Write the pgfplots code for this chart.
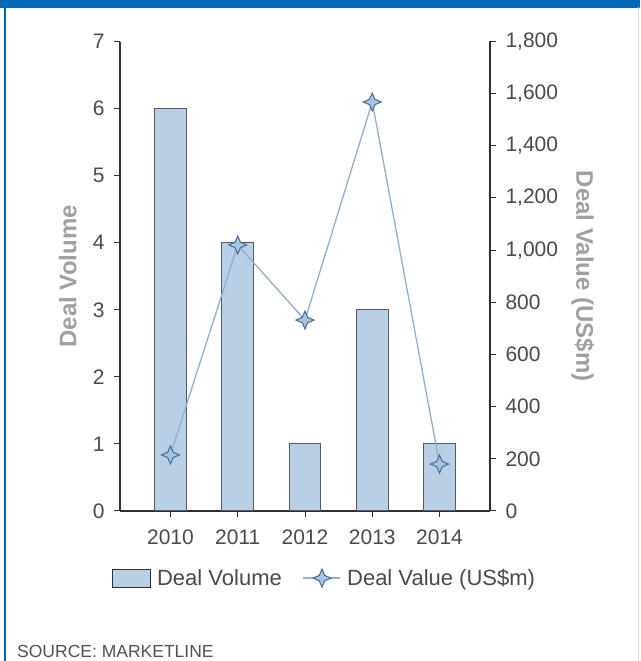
\documentclass[border=0pt]{standalone}
\usepackage{fontspec}
\setmainfont{Liberation Sans}
\usepackage{pgfplots}
\pgfplotsset{compat=1.18}

\definecolor{bandblue}{HTML}{0068B4}
\definecolor{barfill}{HTML}{B9CFE6}
\definecolor{baredge}{HTML}{555B66}
\definecolor{linecol}{HTML}{8DB0D4}
\definecolor{markedge}{HTML}{4C6A8A}
\definecolor{markfill}{HTML}{A3C4E4}
\definecolor{ticktext}{HTML}{4A4A4A}
\definecolor{labeltext}{HTML}{A0A0A0}
\definecolor{axiscol}{HTML}{303030}

% four-pointed star mark
\pgfdeclareplotmark{star4}{%
  \pgfpathmoveto{\pgfqpoint{0pt}{\pgfplotmarksize}}%
  \pgfpathlineto{\pgfqpoint{0.3\pgfplotmarksize}{0.3\pgfplotmarksize}}%
  \pgfpathlineto{\pgfqpoint{\pgfplotmarksize}{0pt}}%
  \pgfpathlineto{\pgfqpoint{0.3\pgfplotmarksize}{-0.3\pgfplotmarksize}}%
  \pgfpathlineto{\pgfqpoint{0pt}{-\pgfplotmarksize}}%
  \pgfpathlineto{\pgfqpoint{-0.3\pgfplotmarksize}{-0.3\pgfplotmarksize}}%
  \pgfpathlineto{\pgfqpoint{-\pgfplotmarksize}{0pt}}%
  \pgfpathlineto{\pgfqpoint{-0.3\pgfplotmarksize}{0.3\pgfplotmarksize}}%
  \pgfpathclose
  \pgfusepathqfillstroke}

\pgfplotsset{
  common/.style={
    scale only axis,
    width=370pt, height=469.5pt,
    at={(120pt,150pt)}, anchor=south west,
    xmin=-0.75, xmax=4.75,
    tick label style={font=\fontsize{21}{25}\selectfont, text=ticktext},
    /pgf/number format/assume math mode=true,
    /pgf/number format/1000 sep={,},
    major tick length=6pt,
    every tick/.style={axiscol, line width=1pt},
    axis line style={axiscol, line width=1.3pt},
  },
  barleg/.style={legend image code/.code={\draw[##1] (0pt,-9pt) rectangle (38pt,9pt);}},
  lineleg/.style={legend image code/.code={\draw[##1, mark repeat=2, mark phase=2]
    plot coordinates {(0pt,0pt) (18.5pt,0pt) (37pt,0pt)};}},
}

\begin{document}
\begin{tikzpicture}[x=1pt,y=1pt]
\path[use as bounding box] (0,0) rectangle (640,661);
\fill[bandblue] (0,653) rectangle (640,661);
\draw[bandblue, line width=2pt] (5,0) -- (5,654);
\draw[black!15, line width=1pt] (638,0) -- (638,654);

% left axis: deal volume (bars)
\begin{axis}[common,
  ymin=0, ymax=7,
  ytick={0,1,...,7},
  xtick={0,1,2,3,4},
  xticklabels={2010,2011,2012,2013,2014},
  axis x line*=bottom,
  axis y line*=left,
  x axis line style={-},
  y axis line style={-},
  tick align=outside,
  xtick pos=bottom, ytick pos=left,
  yticklabel style={xshift=-6pt},
  xticklabel style={yshift=-9pt},
  ylabel={\bfseries Deal Volume},
  every axis y label/.style={at={(axis description cs:-0.141,0.5)}, rotate=90, anchor=center,
    font=\fontsize{24}{28}\selectfont, text=labeltext},
]
\addplot[ybar, bar width=0.475, fill=barfill, draw=baredge, line width=1pt]
  coordinates {(0,6) (1,4) (2,1) (3,3) (4,1)};
\end{axis}

% right axis: deal value (line)
\begin{axis}[common,
  ymin=0, ymax=1800,
  ytick={0,200,...,1800},
  axis x line=none,
  axis y line*=right,
  y axis line style={-},
  tick align=outside,
  ytick pos=right,
  yticklabel style={xshift=6pt},
  ylabel={\bfseries Deal Value (US\$m)},
  every axis y label/.style={at={(axis description cs:1.251,0.5)}, rotate=-90, anchor=center,
    font=\fontsize{24}{28}\selectfont, text=labeltext},
  legend columns=2,
  legend style={draw=none, fill=none, at={(axis description cs:-0.03,-0.143)}, anchor=west,
    font=\fontsize{22}{26}\selectfont, text=ticktext,
    /tikz/every odd column/.append style={column sep=4pt},
    /tikz/every even column/.append style={column sep=19pt}},
]
\addlegendimage{barleg, fill=barfill, draw=axiscol, line width=1pt}
\addlegendentry{Deal Volume}
\addplot[lineleg, linecol, line width=1.3pt, mark=star4, mark size=9pt,
  mark options={fill=markfill, draw=markedge, line width=1pt}]
  coordinates {(0,215) (1,1020) (2,732) (3,1568) (4,180)};
\addlegendentry{Deal Value (US\$m)}
\end{axis}

\node[anchor=base west, font=\fontsize{17.5}{21}\selectfont, text=black!68, inner sep=0pt] at (17,4) {SOURCE: MARKETLINE};
\end{tikzpicture}
\end{document}
